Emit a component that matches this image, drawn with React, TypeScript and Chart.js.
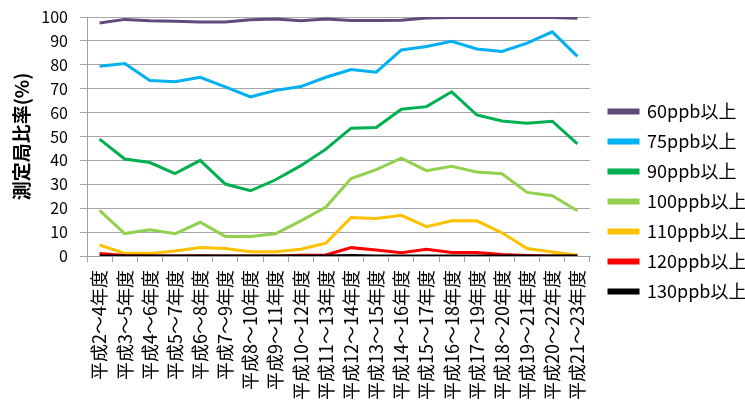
import React, { useEffect, useRef } from "react";
import { Chart, registerables } from "chart.js";

Chart.register(...registerables);

const categories = [
  "平成2～4年度", "平成3～5年度", "平成4～6年度", "平成5～7年度", "平成6～8年度",
  "平成7～9年度", "平成8～10年度", "平成9～11年度", "平成10～12年度", "平成11～13年度",
  "平成12～14年度", "平成13～15年度", "平成14～16年度", "平成15～17年度", "平成16～18年度",
  "平成17～19年度", "平成18～20年度", "平成19～21年度", "平成20～22年度", "平成21～23年度",
];

const s60 = [97.5, 99.0, 98.4, 98.2, 97.9, 97.9, 98.8, 99.2, 98.4, 99.2, 98.5, 98.5, 98.6, 99.6, 99.8, 99.8, 99.8, 99.8, 99.8, 99.5];
const s75 = [79.4, 80.5, 73.4, 72.9, 74.8, 70.8, 66.6, 69.3, 70.9, 74.8, 78.0, 76.9, 86.2, 87.7, 89.8, 86.6, 85.6, 89.1, 93.8, 83.5];
const s90 = [48.9, 40.6, 39.1, 34.5, 40.0, 30.1, 27.3, 31.9, 37.8, 44.7, 53.5, 53.8, 61.4, 62.5, 68.7, 59.0, 56.5, 55.5, 56.4, 46.9];
const s100 = [19.1, 9.4, 11.0, 9.3, 14.1, 8.2, 8.2, 9.3, 14.7, 20.5, 32.4, 36.1, 40.9, 35.7, 37.5, 35.1, 34.4, 26.6, 25.2, 18.9];
const s110 = [4.6, 1.1, 1.1, 2.1, 3.6, 3.1, 1.8, 1.8, 2.8, 5.4, 16.1, 15.7, 17.0, 12.3, 14.7, 14.7, 9.7, 3.1, 1.7, 0.3];
const s120 = [1.0, 0.2, 0.0, 0.0, 0.1, 0.0, 0.0, 0.0, 0.3, 0.4, 3.5, 2.5, 1.4, 2.8, 1.5, 1.5, 0.6, 0.2, 0.0, 0.0];
const s130 = [0, 0, 0, 0, 0, 0, 0, 0, 0, 0, 0.2, 0, 0, 0, 0, 0, 0, 0, 0, 0];

const seriesNames = ["60ppb以上", "75ppb以上", "90ppb以上", "100ppb以上", "110ppb以上", "120ppb以上", "130ppb以上"];
const seriesValues = [s60, s75, s90, s100, s110, s120, s130];
const seriesColors = ["#604A7B", "#00B0F0", "#00B050", "#92D050", "#FFC000", "#FF0000", "#000000"];

const yTicks = [0, 10, 20, 30, 40, 50, 60, 70, 80, 90, 100];
const yTitle = "測定局比率(%)";

const FONT = "'Noto Sans CJK JP', 'Noto Sans', sans-serif";

const legendFix = {
  id: "legendFix",
  beforeLayout(chart: any) {
    const lg = chart.legend;
    if (lg && !lg.__patched) {
      const orig = lg.fit.bind(lg);
      lg.fit = function () {
        orig();
        this.width = 155;
      };
      lg.__patched = true;
    }
  },
  afterLayout(chart: any) {
    const lg = chart.legend;
    if (lg) {
      lg.left += 7;
      lg.right += 7;
      lg.top -= 7;
      lg.bottom -= 7;
    }
  },
};

export default function App() {
  const ref = useRef<HTMLCanvasElement>(null);
  useEffect(() => {
    if (!ref.current) return;
    const chart = new Chart(ref.current, {
      type: "line",
      data: {
        labels: categories,
        datasets: seriesNames.map((name, i) => ({
          label: name,
          data: seriesValues[i],
          borderColor: seriesColors[i],
          backgroundColor: seriesColors[i],
          borderWidth: 3,
          pointRadius: 0,
          tension: 0,
          fill: false,
          order: seriesNames.length - i,
        })),
      },
      options: {
        animation: false,
        responsive: true,
        maintainAspectRatio: false,
        layout: { padding: { top: 17, left: 0, right: 0, bottom: 0 } },
        plugins: {
          tooltip: { enabled: false },
          legend: {
            position: "right",
            align: "center",
            labels: {
              boxWidth: 29,
              boxHeight: 3,
              padding: 12,
              color: "#000",
              font: { family: FONT, size: 18 },
              sort: (a: any, b: any) => a.datasetIndex - b.datasetIndex,
            },
          },
        },
        scales: {
          x: {
            offset: true,
            grid: {
              display: true,
              drawOnChartArea: false,
              drawTicks: true,
              tickLength: 6,
              offset: true,
              color: "#A0A0A0",
            },
            border: { color: "#A0A0A0" },
            ticks: {
              minRotation: 90,
              maxRotation: 90,
              autoSkip: false,
              padding: 8,
              color: "#000",
              font: { family: FONT, size: 18 },
            },
            afterFit: (scale: any) => {
              scale.height = 144;
            },
          },
          y: {
            min: 0,
            max: 100,
            afterBuildTicks: (scale: any) => {
              scale.ticks = yTicks.map((v) => ({ value: v }));
            },
            grid: {
              color: "#A6A6A6",
              tickLength: 7,
            },
            border: { color: "#A0A0A0" },
            ticks: {
              padding: 12,
              color: "#000",
              font: { family: FONT, size: 16 },
            },
            title: {
              display: true,
              text: yTitle,
              color: "#000",
              font: { family: FONT, size: 19, weight: "bold" },
              padding: { top: 10, bottom: 0 },
            },
            afterFit: (scale: any) => {
              scale.width = 87;
              scale.paddingTop = 0;
              scale.paddingBottom = 0;
            },
          },
        },
      },
      plugins: [legendFix],
    });
    return () => chart.destroy();
  }, []);
  return (
    <div style={{ position: "fixed", left: 0, top: 0, width: 745, height: 400, background: "#fff" }}>
      <canvas ref={ref} />
    </div>
  );
}
